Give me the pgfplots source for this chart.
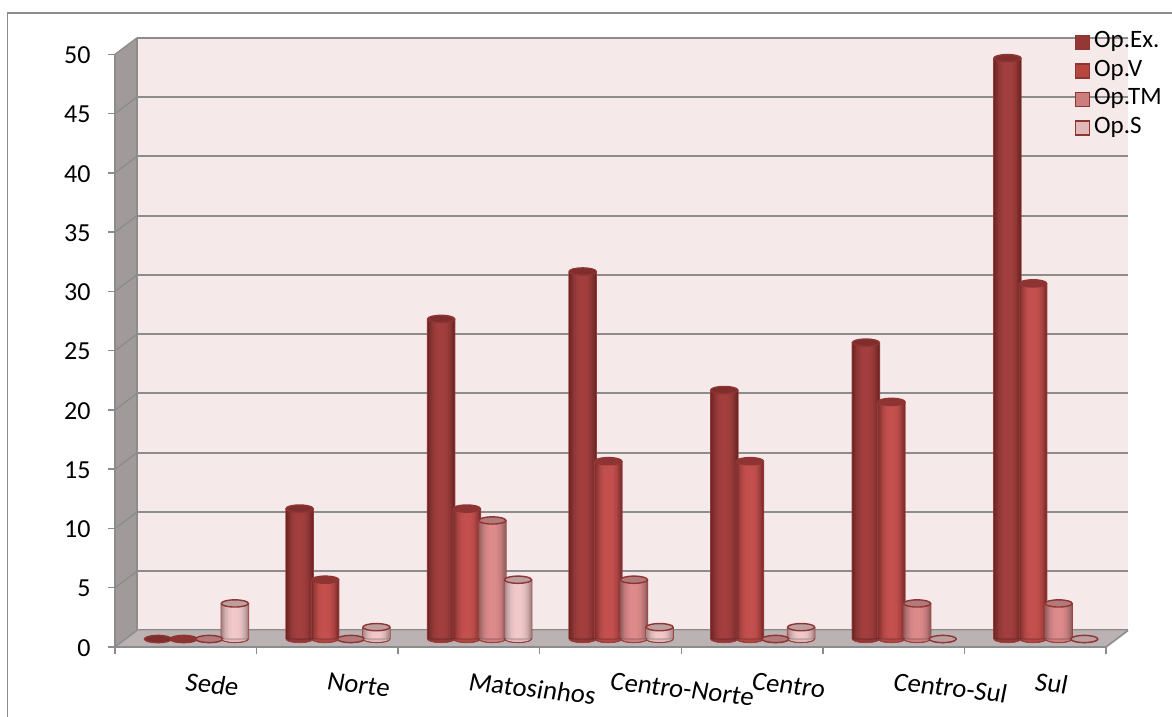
\documentclass[border=0pt]{standalone}
\usepackage{pgfplots}
\pgfplotsset{compat=1.18}
\usepackage{pgfplotstable}
\usepackage{fontspec}
\setmainfont{Carlito}
\newfontfamily\catfont{Carlito}[FakeSlant=0.08]

\definecolor{gridgray}{HTML}{8C8C8C}
\definecolor{wallpink}{HTML}{F5E9E9}
\definecolor{sidewall}{HTML}{A09A9A}
\definecolor{floorgray}{HTML}{BBB3B3}
\definecolor{edgeA}{HTML}{8E3432}
\definecolor{edgeB}{HTML}{A33D3B}

\definecolor{darkA}{HTML}{6B2725}\definecolor{midA}{HTML}{A23F3E}\definecolor{topA}{HTML}{7E2E2D}\definecolor{swA}{HTML}{953735}
\definecolor{darkB}{HTML}{7E2F2E}\definecolor{midB}{HTML}{C4504E}\definecolor{topB}{HTML}{8E3432}\definecolor{swB}{HTML}{B5473F}
\definecolor{darkC}{HTML}{94605F}\definecolor{midC}{HTML}{DD8A8B}\definecolor{topC}{HTML}{B27A7A}\definecolor{swC}{HTML}{CC7E7F}
\definecolor{darkD}{HTML}{A68B8B}\definecolor{midD}{HTML}{F1C8C9}\definecolor{topD}{HTML}{BCA0A0}\definecolor{swD}{HTML}{E0B9BA}

% Cylinder ends: the visible lower half of the base and a flat, slightly tilted lid
\newcommand{\declarecylinder}[1]{%
  \pgfdeclareplotmark{cylbase#1}{%
    \path[fill=mid#1!75!dark#1] (-13.5pt,0pt) arc [start angle=180,end angle=360,x radius=13.5pt,y radius=3.6pt] -- cycle;
    \path[draw=edgeB,line width=0.9pt] (-13.5pt,0pt) arc [start angle=180,end angle=360,x radius=13.5pt,y radius=3.6pt];}%
  \pgfdeclareplotmark{cyllid#1}{%
    \path[fill=top#1,draw=edgeA,line width=1.4pt,rotate=3]
      (0,0) ellipse [x radius=13.5pt,y radius=3.6pt];}%
}
\declarecylinder{A}\declarecylinder{B}\declarecylinder{C}\declarecylinder{D}

\pgfplotstableread{
Ex V  TM S
0  0  0  3
11 5  0  1
27 11 10 5
31 15 5  1
21 15 0  1
25 20 3  0
49 30 3  0
}\operations

% A vertical strip of a cylinder body; nested strips give the rounded look
\newcommand{\cylstrip}[5]{%
  \addplot[ybar,bar width=#4pt,bar shift=0pt,draw=none,fill=mid#2!#5!dark#2,
    restrict y to domain=0.5:100,forget plot]
    table[x expr=\coordindex+#3,y=#1] {\operations};
}
% One series of cylinders: edge, body strips, base, lid
\newcommand{\cylinderseries}[3]{%
  \addplot[ybar,bar width=28.5pt,bar shift=0pt,draw=none,fill=edgeB,
    restrict y to domain=0.5:100,
    legend image code/.code={\draw[fill=sw#2,draw=edgeA,line width=1.4pt] (0pt,-7pt) rectangle (14pt,7pt);}]
    table[x expr=\coordindex+#3,y=#1] {\operations};
  \cylstrip{#1}{#2}{#3}{27}{0}
  \cylstrip{#1}{#2}{#3}{24.5}{20}
  \cylstrip{#1}{#2}{#3}{22}{40}
  \cylstrip{#1}{#2}{#3}{19.5}{58}
  \cylstrip{#1}{#2}{#3}{17}{72}
  \cylstrip{#1}{#2}{#3}{14}{84}
  \cylstrip{#1}{#2}{#3}{11}{93}
  \cylstrip{#1}{#2}{#3}{7}{100}
  \addplot[only marks,mark=cylbase#2,forget plot] table[x expr=\coordindex+#3,y expr=0] {\operations};
  \addplot[only marks,mark=cyllid#2,forget plot] table[x expr=\coordindex+#3,y=#1] {\operations};
}

\begin{document}
\begin{tikzpicture}[x=1pt,y=1pt]
\path[use as bounding box] (0,0) rectangle (1172,717);
% outer frame of the chart area
\draw[gridgray,line width=1.2pt] (7.5,0) -- (7.5,704) -- (1172,704);

% back wall with its grid
\begin{axis}[at={(137pt,86.5pt)},anchor=south west,scale only axis,
  width=991pt,height=592.7pt,xmin=0,xmax=7,ymin=0,ymax=50,
  axis background/.style={fill=wallpink},
  axis line style={draw=none},tick style={draw=none},
  xtick=\empty,ytick={0,5,...,50},yticklabels={},
  ymajorgrids,grid style={gridgray,line width=2pt},clip=false]
\end{axis}

% side wall and floor, under the front axis
\fill[sidewall] (115,70) -- (137,86.5) -- (137,679.2) -- (115,662.7) -- cycle;
\fill[floorgray] (115,70) -- (137,86.5) -- (1128,86.5) -- (1106,70) -- cycle;
\draw[gridgray,line width=1.6pt] (1106,70) -- (1128,86.5);
\foreach \k in {0,...,10}{
  \draw[gridgray,line width=1.3pt] (115,70+59.27*\k) -- (137,86.5+59.27*\k);
}
\draw[gridgray,line width=1.6pt] (137,86.5) -- (137,679.2);

% front axes: ticks and labels
\begin{axis}[at={(115pt,70pt)},anchor=south west,scale only axis,
  width=991pt,height=592.7pt,xmin=0,xmax=7,ymin=0,ymax=50,
  axis x line=bottom,axis y line=left,
  axis line style={gridgray,line width=1.8pt,-},
  tick style={gridgray,line width=1.4pt},
  major tick length=7pt,
  ytick={0,5,...,50},xtick={0,...,7},xticklabels={},
  tick align=outside,
  y tick label style={font=\fontsize{26}{28}\selectfont,xshift=-14pt,yshift=-1pt},
  /pgf/number format/assume math mode=true,
  extra x ticks={0.5,1.5,2.5,3.5,4.5,5.5,6.5},
  extra x tick labels={Sede,Norte,Matosinhos,Centro-Norte,Centro,Centro-Sul,Sul},
  extra x tick style={major tick length=0pt,
    x tick label style={font=\catfont\fontsize{26.7}{28}\selectfont,rotate=-6.5,anchor=west,
      yshift=-34pt,xshift=0pt}},
  clip=false]
\end{axis}

% cylinders stand mid-way across the floor
\begin{axis}[at={(126pt,78pt)},anchor=south west,scale only axis,
  width=991pt,height=592.7pt,xmin=0,xmax=7,ymin=0,ymax=50,
  hide axis,clip=false,
  legend style={at={(axis description cs:0.9575,1.027)},anchor=north west,
    draw=none,fill=none,row sep=4.6pt,inner sep=0pt,outer sep=0pt,
    font=\fontsize{25}{25}\selectfont,
    nodes={inner ysep=1.5pt,inner xsep=3.8pt,text depth=5pt,text height=16pt}},
  legend cell align=left]
\cylinderseries{Ex}{A}{0.226}
\cylinderseries{V}{B}{0.407}
\cylinderseries{TM}{C}{0.588}
\cylinderseries{S}{D}{0.769}
\legend{Op.Ex.,Op.V,Op.TM,Op.S}
\end{axis}
\end{tikzpicture}
\end{document}
